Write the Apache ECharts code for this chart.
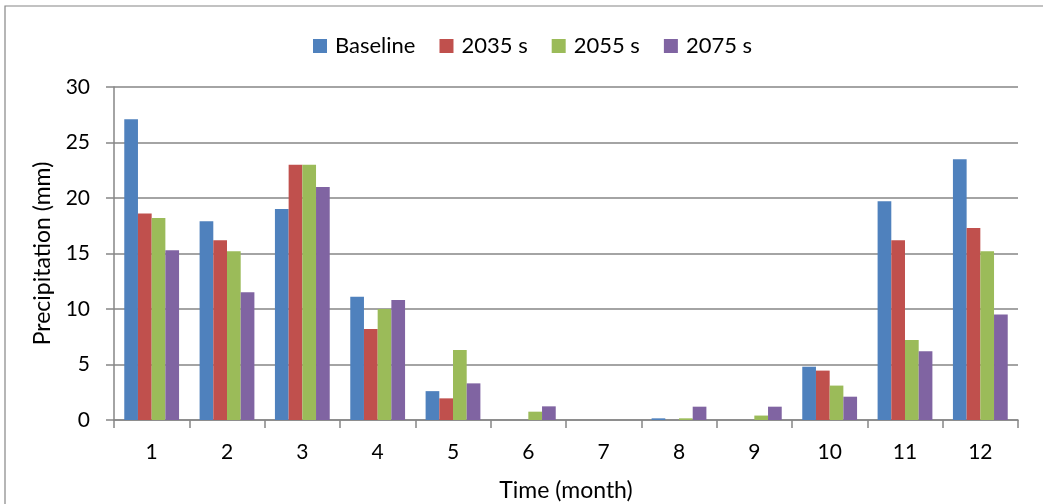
<!DOCTYPE html>
<html>
<head>
<meta charset="utf-8">
<script src="https://cdn.jsdelivr.net/npm/echarts@6/dist/echarts.min.js"></script>
<style>
html,body{margin:0;padding:0;background:#fff;}
#chart{width:1043px;height:504px;}
</style>
</head>
<body>
<div id="chart"></div>
<script>
var months = ['1','2','3','4','5','6','7','8','9','10','11','12'];
var seriesNames = ['Baseline','2035 s','2055 s','2075 s'];
var baseline = [27.1, 17.9, 19.0, 11.1, 2.6, 0, 0, 0.15, 0, 4.8, 19.7, 23.5];
var s2035   = [18.6, 16.2, 23.0, 8.2, 1.95, 0, 0, 0, 0, 4.45, 16.2, 17.3];
var s2055   = [18.2, 15.2, 23.0, 10.0, 6.3, 0.75, 0, 0.15, 0.4, 3.1, 7.2, 15.2];
var s2075   = [15.3, 11.5, 21.0, 10.8, 3.3, 1.23, 0, 1.2, 1.2, 2.1, 6.2, 9.5];
var yTicks = [0, 5, 10, 15, 20, 25, 30];
var colors = ['#4F81BD','#C0504D','#9BBB59','#8064A2'];

var font = 'Lato, "Open Sans", sans-serif';
var fs = 21;
var fsBig = 23;
var chart = echarts.init(document.getElementById('chart'), null, {renderer:'canvas'});
var allData = [baseline, s2035, s2055, s2075];
var series = seriesNames.map(function(n, i){
  return {
    name: n, type: 'bar', data: allData[i],
    barWidth: 13.7, barGap: '0%',
    itemStyle: {color: colors[i]},
    animation: false
  };
});
chart.setOption({
  animation: false,
  color: colors,
  graphic: [{
    type: 'rect', shape: {x: 5, y: 6, width: 1100, height: 600},
    style: {fill: 'none', stroke: '#868686', lineWidth: 1.2}, silent: true, z: -1
  }],
  legend: {
    data: seriesNames, top: 30, left: 308,
    icon: 'rect', itemWidth: 14, itemHeight: 14, itemGap: 24,
    textStyle: {fontFamily: font, fontSize: 22, color: '#000', padding: [0,0,0,3]}
  },
  grid: {left: 114, right: 25, top: 87, bottom: 84, containLabel: false, outerBoundsMode: 'none'},
  xAxis: {
    type: 'category', data: months, boundaryGap: true,
    name: 'Time (month)', nameLocation: 'middle', nameGap: 59,
    nameTextStyle: {fontFamily: font, fontSize: fsBig, color: '#000'},
    axisLine: {lineStyle: {color: '#868686', width: 1.5}},
    axisTick: {show: true, length: 8, lineStyle: {color: '#868686', width: 1.5}},
    axisLabel: {fontFamily: font, fontSize: fs, color: '#000', margin: 22}
  },
  yAxis: {
    type: 'value', min: yTicks[0], max: yTicks[yTicks.length-1], interval: 5,
    name: 'Precipitation (mm)', nameLocation: 'middle', nameGap: 60, nameRotate: 90,
    nameTextStyle: {fontFamily: font, fontSize: fsBig, color: '#000'},
    axisLine: {show: true, lineStyle: {color: '#868686', width: 1.5}},
    axisTick: {show: true, length: 8, lineStyle: {color: '#868686', width: 1.5}},
    splitLine: {lineStyle: {color: '#868686', width: 1.5}},
    axisLabel: {fontFamily: font, fontSize: fs, color: '#000', margin: 24}
  },
  series: series
});
</script>
</body>
</html>
